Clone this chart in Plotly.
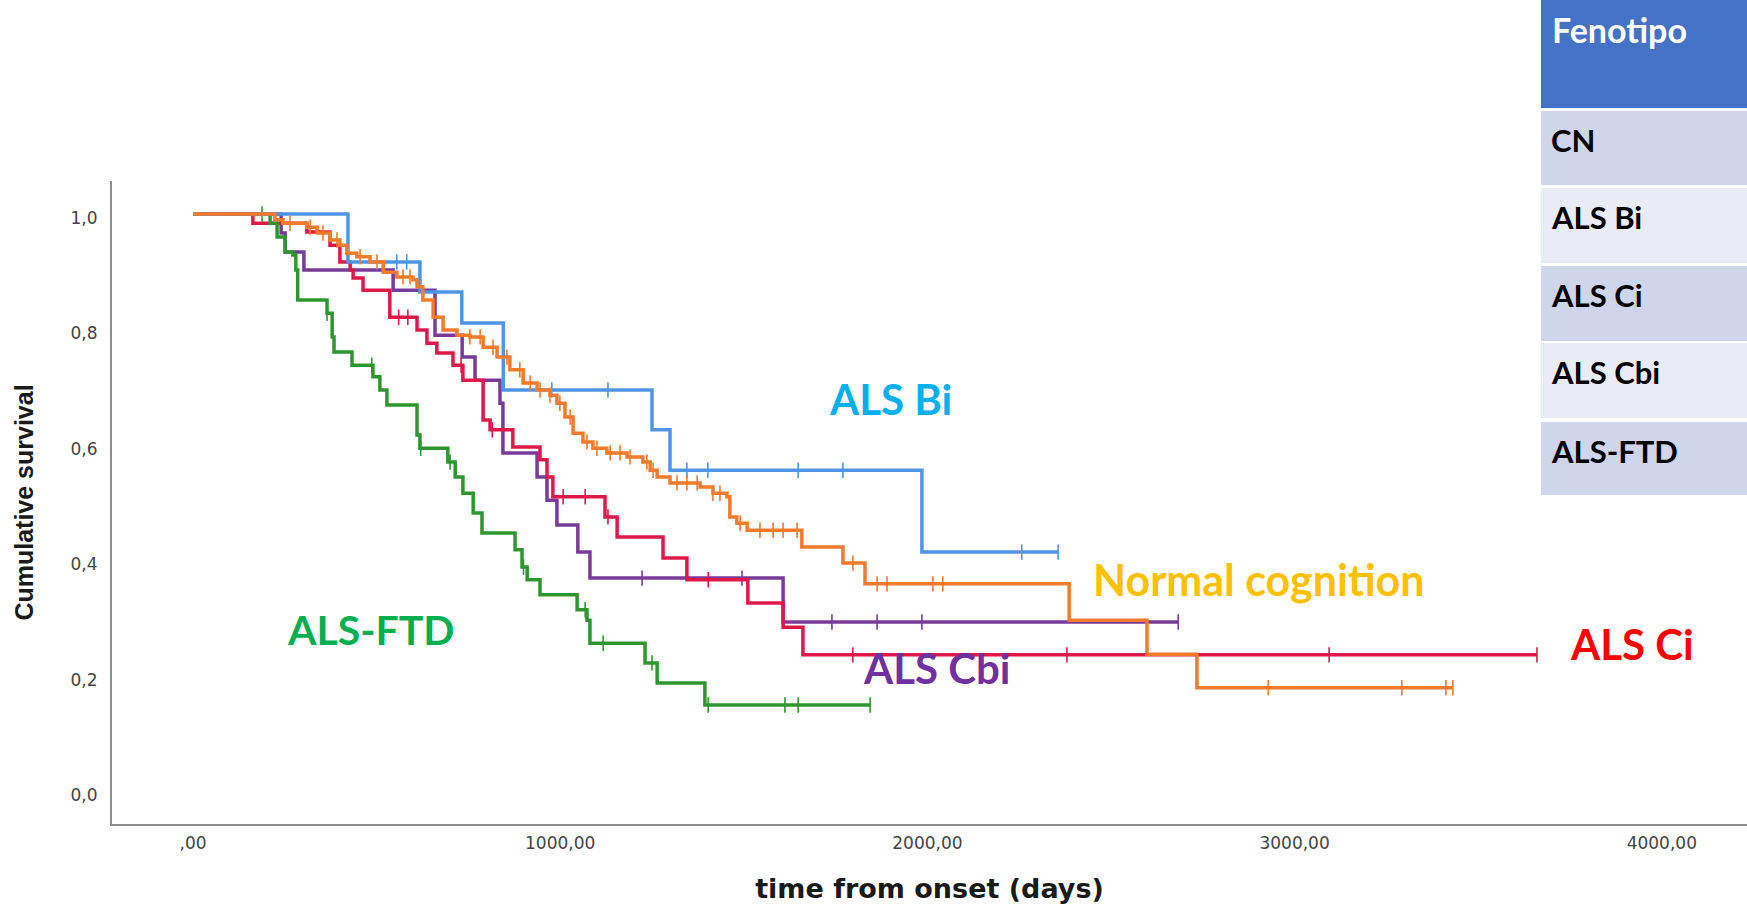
import plotly.graph_objects as go

# ---------------- data ----------------
# Normal cognition (CN)
cn_times = [223, 245, 310, 338, 373, 400, 419, 446, 482, 518, 555, 599, 610, 626, 654, 681, 719, 754, 790, 828,
            863, 899, 937, 972, 991, 1013, 1035, 1062, 1089, 1127, 1182, 1225, 1245, 1264, 1299, 1381, 1416, 1454,
            1462, 1481, 1509, 1658, 1770, 1830, 2386, 2598, 2734]
cn_surv = [0.990, 0.984, 0.977, 0.967, 0.955, 0.946, 0.932, 0.926, 0.917, 0.899, 0.891, 0.886, 0.874, 0.851, 0.821,
           0.799, 0.790, 0.787, 0.769, 0.752, 0.730, 0.707, 0.695, 0.686, 0.672, 0.648, 0.620, 0.605, 0.594, 0.586,
           0.579, 0.570, 0.556, 0.544, 0.534, 0.527, 0.516, 0.510, 0.475, 0.464, 0.452, 0.423, 0.395, 0.359, 0.296,
           0.237, 0.179]
cn_end = 3431
cn_censored = [264, 319, 354, 392, 455, 501, 572, 591, 754, 782, 817, 855, 890, 918, 945, 972, 999, 1027, 1073, 1100,
               1136, 1163, 1190, 1236, 1253, 1318, 1345, 1373, 1416, 1435, 1490, 1544, 1580, 1607, 1645, 1797, 1863,
               1890, 2015, 2042, 2928, 3292, 3412, 3431]

# ALS Bi
bi_times = [422, 618, 732, 845, 1250, 1299, 1985]
bi_surv = [0.917, 0.865, 0.811, 0.695, 0.626, 0.556, 0.414]
bi_end = 2356
bi_censored = [555, 582, 977, 1130, 1345, 1402, 1648, 1770, 2257, 2356]

# ALS Ci
ci_times = [163, 310, 373, 400, 428, 436, 463, 536, 610, 637, 664, 708, 735, 790, 809, 871, 945, 964, 980, 1122,
            1155, 1280, 1345, 1511, 1607, 1661]
ci_surv = [0.984, 0.969, 0.946, 0.917, 0.903, 0.889, 0.868, 0.821, 0.799, 0.776, 0.759, 0.738, 0.712, 0.643, 0.626,
           0.596, 0.574, 0.544, 0.510, 0.475, 0.440, 0.404, 0.366, 0.326, 0.284, 0.236]
ci_end = 3660
ci_censored = [560, 585, 730, 815, 1008, 1068, 1130, 1403, 1797, 2380, 3094, 3660]

# ALS Cbi
cbi_times = [240, 251, 302, 545, 659, 733, 768, 836, 844, 937, 964, 991, 1048, 1081, 1607]
cbi_surv = [0.967, 0.934, 0.903, 0.868, 0.790, 0.752, 0.712, 0.672, 0.586, 0.544, 0.504, 0.461, 0.414, 0.369, 0.293]
cbi_end = 2683
cbi_censored = [1223, 1495, 1740, 1863, 1985, 2683]

# ALS-FTD
ftd_times = [210, 229, 251, 272, 280, 285, 365, 379, 384, 433, 490, 509, 528, 610, 618, 694, 714, 735, 763, 787,
             877, 896, 910, 945, 1046, 1073, 1081, 1231, 1264, 1394]
ftd_surv = [0.984, 0.960, 0.934, 0.929, 0.903, 0.851, 0.828, 0.787, 0.761, 0.738, 0.718, 0.695, 0.669, 0.617, 0.594,
            0.570, 0.544, 0.516, 0.482, 0.447, 0.418, 0.388, 0.366, 0.340, 0.314, 0.296, 0.256, 0.222, 0.187, 0.149]
ftd_end = 1844
ftd_censored = [188, 365, 487, 620, 700, 900, 1068, 1117, 1250, 1403, 1612, 1648, 1844]

x_tickvals = [0, 1000, 2000, 3000, 4000]
x_ticktext = [",00", "1000,00", "2000,00", "3000,00", "4000,00"]
y_tickvals = [0.0, 0.2, 0.4, 0.6, 0.8, 1.0]
y_ticktext = ["0,0", "0,2", "0,4", "0,6", "0,8", "1,0"]

table_header = "Fenotipo"
table_rows = ["CN", "ALS Bi", "ALS Ci", "ALS Cbi", "ALS-FTD"]
curve_labels = ["ALS Bi", "Normal cognition", "ALS Ci", "ALS Cbi", "ALS-FTD"]

# ---------------- layout helpers ----------------
W, H = 1747, 908
ML, MR, MT, MB = 112, 0, 181, 84


def pxx(px):
    return (px - ML) / (W - ML - MR)


def pxy(py):
    return (H - MB - py) / (H - MT - MB)


def surv_at(times, surv, t):
    s = 1.0
    for ti, si in zip(times, surv):
        if ti <= t:
            s = si
        else:
            break
    return s


groups = [
    ("ALS Cbi", cbi_times, cbi_surv, cbi_end, cbi_censored, "#7A3A9A"),
    ("ALS Ci", ci_times, ci_surv, ci_end, ci_censored, "#E0184A"),
    ("ALS-FTD", ftd_times, ftd_surv, ftd_end, ftd_censored, "#2F962F"),
    ("ALS Bi", bi_times, bi_surv, bi_end, bi_censored, "#4F95E6"),
    ("CN", cn_times, cn_surv, cn_end, cn_censored, "#F47A2C"),
]

fig = go.Figure()
for name, t, s, end, cens, color in groups:
    fig.add_trace(go.Scatter(
        x=[0] + t + [end], y=[1.0] + s + [s[-1]],
        mode="lines", line=dict(color=color, width=3.5, shape="hv"),
        name=name, showlegend=False, hoverinfo="skip"))
    fig.add_trace(go.Scatter(
        x=cens, y=[surv_at(t, s, c) for c in cens],
        mode="markers",
        marker=dict(symbol="line-ns", size=11, line=dict(color=color, width=1.6)),
        name=name + " censored", showlegend=False, hoverinfo="skip"))

shapes = []
annotations = []

# table (phenotype legend)
shapes.append(dict(type="rect", xref="paper", yref="paper", x0=pxx(1541), x1=pxx(1747),
                   y0=pxy(108), y1=pxy(0), fillcolor="#4472C4", line=dict(width=0), layer="above"))
annotations.append(dict(text=table_header, xref="paper", yref="paper", x=pxx(1550), y=pxy(30),
                        xanchor="left", yanchor="middle", showarrow=False,
                        font=dict(family="Lato", size=34, color="white", weight=700)))
row_tops = [111, 188, 266, 343, 422]
row_bottoms = [185, 263, 341, 418, 495]
row_fills = ["#CFD5EA", "#E9EBF5", "#CFD5EA", "#E9EBF5", "#CFD5EA"]
for label, top, bot, fill in zip(table_rows, row_tops, row_bottoms, row_fills):
    shapes.append(dict(type="rect", xref="paper", yref="paper", x0=pxx(1541), x1=pxx(1747),
                       y0=pxy(bot), y1=pxy(top), fillcolor=fill, line=dict(width=0), layer="above"))
    annotations.append(dict(text=label, xref="paper", yref="paper", x=pxx(1549), y=pxy(top + 29),
                            xanchor="left", yanchor="middle", showarrow=False,
                            font=dict(family="Lato", size=31, color="black", weight=700)))

# curve labels
label_pos = [(890, 399), (1259, 579), (1632, 644), (937, 668), (371, 629)]
label_colors = ["#00B0F0", "#FFC000", "#FF0000", "#7030A0", "#00B050"]
label_sizes = [42, 43, 42, 42, 41]
for text, (cx, cy), col, sz in zip(curve_labels, label_pos, label_colors, label_sizes):
    annotations.append(dict(text=text, xref="paper", yref="paper", x=pxx(cx), y=pxy(cy),
                            xanchor="center", yanchor="middle", showarrow=False,
                            font=dict(family="Lato", size=sz, color=col, weight=700)))

x0_val = -220.6
x1_val = 4232
fig.update_layout(
    width=W, height=H,
    margin=dict(l=ML, r=MR, t=MT, b=MB, autoexpand=False),
    paper_bgcolor="white", plot_bgcolor="white",
    shapes=shapes, annotations=annotations,
    xaxis=dict(range=[x0_val, x1_val], showgrid=False, zeroline=False,
               showline=True, linecolor="#8C8C8C", linewidth=2,
               tickvals=x_tickvals, ticktext=x_ticktext, ticks="",
               ticklabelstandoff=3,
               tickfont=dict(family="DejaVu Sans", size=17, color="#444444"),
               title=dict(text="time from onset (days)", standoff=27,
                          font=dict(family="DejaVu Sans", size=27, color="#1A1A1A", weight=700)),
               automargin=False),
    yaxis=dict(range=[-0.0572, 1.0572], showgrid=False, zeroline=False,
               showline=True, linecolor="#8C8C8C", linewidth=2,
               tickvals=y_tickvals, ticktext=y_ticktext, ticks="",
               ticklabelstandoff=9, ticklabelshift=4,
               tickfont=dict(family="DejaVu Sans", size=17, color="#444444"),
               title=dict(text="Cumulative survival", standoff=30,
                          font=dict(family="Liberation Sans", size=25, color="#1A1A1A", weight=700)),
               automargin=False),
)

fig.write_html("out.html", config={"displayModeBar": False},
               post_script="document.body.style.margin='0';document.body.style.overflow='hidden';")
